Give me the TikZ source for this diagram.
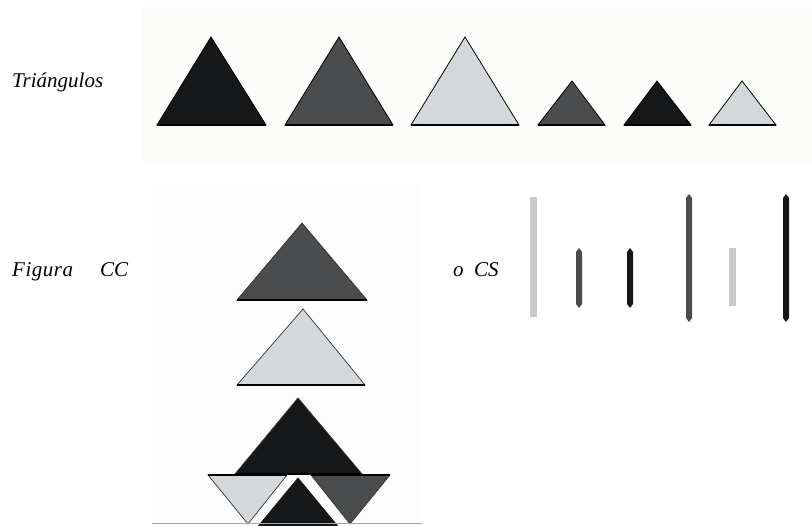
\documentclass[tikz,border=0pt]{standalone}
\usepackage{fontspec}
\setmainfont{Liberation Serif}
\definecolor{tblack}{HTML}{151718}
\definecolor{tdark}{HTML}{4A4C4D}
\definecolor{tlight}{HTML}{D5D8DA}
\definecolor{barlight}{HTML}{C9C9C9}
\definecolor{paneltop}{HTML}{FCFCFA}
\definecolor{panellow}{HTML}{FDFDFD}
\tikzset{
  tri/.style={draw=black, line width=0.8pt, line join=miter},
  trilow/.style={draw=black!80, line width=0.7pt, line join=miter},
  basestroke/.style={draw=black, line width=2.2pt},
  lbl/.style={font=\itshape\fontsize{21}{25}\selectfont, anchor=base west, inner sep=0pt},
}
\begin{document}
\begin{tikzpicture}[x=1pt,y=-1pt]
\useasboundingbox (0,0) rectangle (812,526);
\clip (0,0) rectangle (812,526);
% panels
\fill[paneltop] (142,7) rectangle (812,162);
\fill[panellow] (152,183) rectangle (422,526);
% labels
\node[lbl] (ttri) at (12,88) {Triángulos};
\node[lbl] (tfig) at (12,277) {\addfontfeature{LetterSpace=2.5}Figura};
\node[lbl] (tcc) at (100,277) {CC};
\node[lbl] (tcs) at (453,277) {o\ \ CS};
% top row of triangles
\filldraw[tri, fill=tblack] (157,125) -- (211,37) -- (266,125) -- cycle;
\draw[basestroke] (157,125) -- (266,125);
\filldraw[tri, fill=tdark] (285,125) -- (339,37) -- (393,125) -- cycle;
\draw[basestroke] (285,125) -- (393,125);
\filldraw[tri, fill=tlight] (411,125) -- (465,37) -- (519,125) -- cycle;
\draw[basestroke] (411,125) -- (519,125);
\filldraw[tri, fill=tdark] (538,125) -- (572,81) -- (605,125) -- cycle;
\draw[basestroke] (538,125) -- (605,125);
\filldraw[tri, fill=tblack] (624,125) -- (657,81) -- (691,125) -- cycle;
\draw[basestroke] (624,125) -- (691,125);
\filldraw[tri, fill=tlight] (709,125) -- (742,81) -- (776,125) -- cycle;
\draw[basestroke] (709,125) -- (776,125);
% lower stack
\filldraw[trilow, fill=tdark] (237,300) -- (302,223) -- (367,300) -- cycle;
\draw[basestroke] (237,300) -- (367,300);
\filldraw[trilow, fill=tlight] (237,385) -- (303,309) -- (365,385) -- cycle;
\draw[basestroke] (237,385) -- (365,385);
\filldraw[trilow, fill=tblack] (235,474) -- (298,398) -- (362,474) -- cycle;
\draw[basestroke] (235,474) -- (362,474);
% bottom cluster
\filldraw[trilow, fill=tlight] (208,475) -- (287,475) -- (248,524) -- cycle;
\filldraw[trilow, fill=tdark] (311,475) -- (390,475) -- (350,524) -- cycle;
\draw[line width=1.6pt] (208,475) -- (287,475);
\draw[line width=1.6pt] (311,475) -- (390,475);
\filldraw[draw=white, line width=1.5pt, fill=tblack] (298,476) -- (250,534) -- (346,534) -- cycle;
\draw[black!35, line width=1pt] (152,523.5) -- (422,523.5);
% vertical bars (side views)
\fill[barlight] (530,197) rectangle (536.5,317);
\fill[tdark] (579,248) -- (582,252) -- (582,304) -- (579,308) -- (576,304) -- (576,252) -- cycle;
\fill[tblack] (630,248) -- (633,252) -- (633,304) -- (630,308) -- (627,304) -- (627,252) -- cycle;
\fill[tdark] (689,194) -- (692,198) -- (692,318) -- (689,322) -- (686,318) -- (686,198) -- cycle;
\fill[barlight] (729,248) rectangle (735.5,306);
\fill[tblack] (786,194) -- (789,198) -- (789,318) -- (786,322) -- (783,318) -- (783,198) -- cycle;
\end{tikzpicture}
\end{document}
